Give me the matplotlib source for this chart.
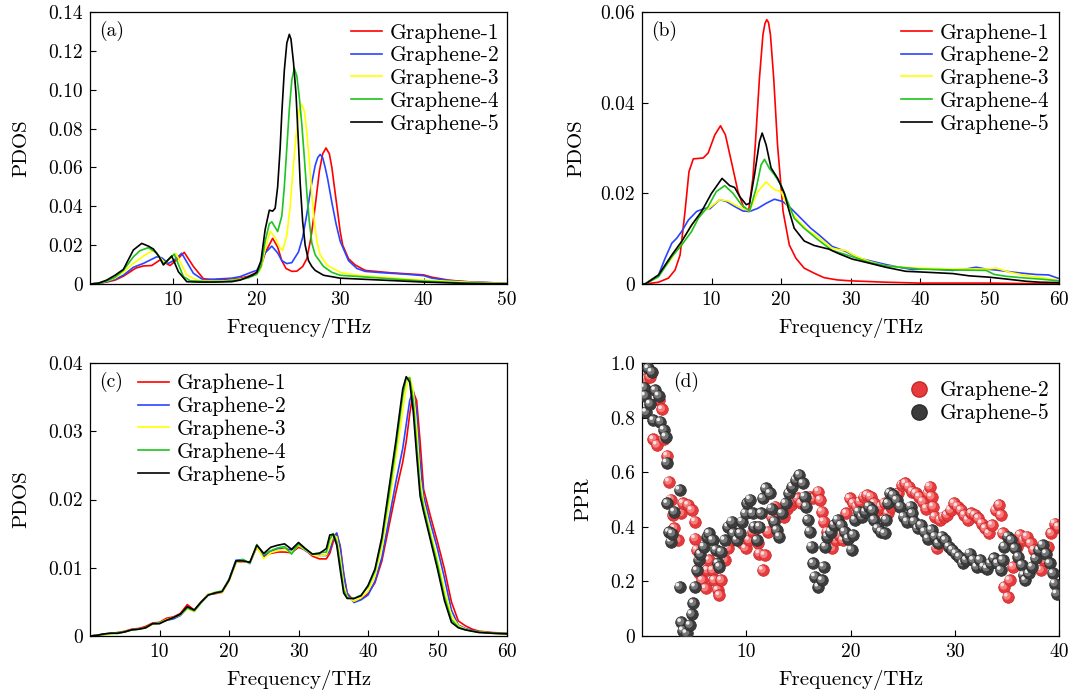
import matplotlib
matplotlib.use("Agg")
import matplotlib.pyplot as plt
from matplotlib.ticker import FixedLocator, FuncFormatter
from matplotlib.transforms import offset_copy
from matplotlib.lines import Line2D

plt.rcParams['font.family'] = ['cmr10', 'DejaVu Serif']
plt.rcParams['axes.formatter.use_mathtext'] = True
plt.rcParams['mathtext.fontset'] = 'cm'

labels = ["Graphene-1", "Graphene-2", "Graphene-3", "Graphene-4", "Graphene-5"]
colors = ["#ff0000", "#2a45ff", "#ffff00", "#1ec31e", "#000000"]

# ---------------- panel (a) ----------------
a_f1 = [0,1,2,3,4,5,5.5,6.4,7.4,8.4,9.6,10.5,11.3,12.4,13.6,15,17,18,19,19.5,20,20.5,21,21.9,22.5,23,23.5,24.2,24.8,25.5,26,26.5,27,27.5,27.9,28.3,28.7,29.0,29.3,29.7,30.0,30.3,31,31.8,33,36,40,41,43,45,50]
a_v1 = [0,0.0003,0.001,0.002,0.004,0.0068,0.0082,0.0093,0.0095,0.0124,0.0095,0.0128,0.0163,0.009,0.0027,0.0022,0.0025,0.003,0.004,0.005,0.006,0.009,0.016,0.0235,0.019,0.012,0.008,0.0065,0.0066,0.009,0.013,0.024,0.04,0.058,0.067,0.07,0.067,0.06,0.05,0.037,0.027,0.02,0.013,0.0098,0.007,0.0058,0.0047,0.0035,0.002,0.0012,0.0003]
a_f2 = [0,1,2,3,4,5.2,6.4,8,8.6,9.4,10,11,12.4,13.6,15,17,18,19.5,20,20.5,21,21.8,22.5,23,23.6,24.2,25,25.5,26,26.5,27,27.3,27.6,27.9,28.2,28.5,29,29.5,30,31,32,33,35,38,40,41,43,45,50]
a_v2 = [0,0.0003,0.0012,0.0025,0.0045,0.0086,0.0106,0.014,0.0135,0.0106,0.012,0.0158,0.0055,0.002,0.0025,0.003,0.0038,0.0063,0.007,0.011,0.016,0.0195,0.016,0.012,0.0105,0.011,0.0165,0.024,0.036,0.05,0.061,0.065,0.0667,0.065,0.06,0.054,0.042,0.031,0.022,0.012,0.008,0.0065,0.0058,0.005,0.0043,0.003,0.0018,0.0012,0.0003]
a_f3 = [0,1,2,3,4,5.2,6.4,7.6,9,10.3,11.6,12.8,14,16,18,19,20,20.5,21,21.6,22.2,22.7,23.1,23.6,24.0,24.4,24.8,25.1,25.4,25.7,26.0,26.3,26.6,26.9,27.2,27.6,28.4,30,32,35,40,45,50]
a_v3 = [0,0.0004,0.0015,0.003,0.006,0.0106,0.0144,0.0175,0.0106,0.0158,0.0046,0.002,0.0015,0.0015,0.0025,0.0035,0.005,0.008,0.018,0.027,0.024,0.019,0.0173,0.025,0.04,0.062,0.08,0.09,0.0925,0.089,0.078,0.063,0.046,0.032,0.022,0.015,0.0098,0.006,0.0045,0.0035,0.002,0.001,0.0003]
a_f4 = [0,1,2,3,4,5.2,6,7,8,8.8,10.1,11.2,12,14,16,18,19,20,20.5,21,21.5,21.8,22.5,23,23.3,23.6,23.9,24.2,24.5,24.8,25.1,25.4,25.7,26.0,26.3,26.6,27,28,29,30,35,40,45,50]
a_v4 = [0,0.0004,0.0015,0.0035,0.007,0.014,0.0172,0.0187,0.016,0.0103,0.0154,0.0038,0.0017,0.0012,0.0013,0.0022,0.0032,0.005,0.009,0.022,0.031,0.032,0.027,0.035,0.05,0.07,0.09,0.105,0.111,0.107,0.096,0.082,0.065,0.047,0.032,0.021,0.015,0.009,0.006,0.0045,0.003,0.0015,0.0005,0.0001]
a_f5 = [0,1,2,3,4,5.2,6.2,7,7.6,8.3,8.8,9.8,10.6,11.6,13,15,17,18,19.5,20,20.5,21,21.5,21.9,22.2,22.5,22.8,23.0,23.3,23.6,23.9,24.1,24.4,24.7,25.0,25.2,25.5,25.8,26.2,26.6,27,28,30,35,40,45,50]
a_v5 = [0,0.0004,0.002,0.0045,0.0075,0.0175,0.0209,0.0195,0.018,0.014,0.0098,0.0144,0.0063,0.0012,0.001,0.001,0.0012,0.002,0.0046,0.006,0.012,0.028,0.038,0.0375,0.039,0.05,0.07,0.088,0.11,0.124,0.1285,0.126,0.114,0.098,0.072,0.052,0.032,0.02,0.012,0.009,0.007,0.0045,0.003,0.002,0.001,0.0003,0.0001]

# ---------------- panel (b) ----------------
b_f1 = [0,0.48,2.38,3.81,4.76,5.48,6.19,6.76,7.38,8.81,9.52,10.48,11.29,12.0,12.86,13.81,14.67,15.33,15.95,16.3,16.9,17.4,17.7,17.95,18.2,18.48,18.95,19.5,20.3,21.2,22.14,23.33,24.76,26.19,28.1,30,35,40,45,50,55,60]
b_v1 = [0,0,0.0004,0.0013,0.0031,0.0064,0.016,0.0248,0.0276,0.0278,0.0289,0.0329,0.0349,0.0329,0.027,0.0204,0.0167,0.016,0.0233,0.0307,0.0454,0.055,0.0575,0.0583,0.0577,0.055,0.0454,0.0307,0.016,0.0086,0.0057,0.0035,0.0024,0.0014,0.0009,0.0007,0.0004,0.0002,0.0002,0.0002,0.0001,0.0001]
b_f2 = [0,0.48,2.38,3.33,4.29,5.0,5.71,6.67,7.86,9.05,9.76,11.19,12.14,13.33,14.52,15.48,16.67,17.86,19.05,20.24,21.43,22.86,24.29,25.5,27.35,29.28,31.2,33.13,35.06,36.99,38.9,40.84,42.77,44.7,46.6,48.07,49.5,51.4,53.4,55.3,56.7,58.5,60]
b_v2 = [0,0.0001,0.002,0.0057,0.009,0.0101,0.0116,0.0141,0.016,0.0167,0.0166,0.0186,0.0182,0.0171,0.0161,0.016,0.0167,0.0178,0.0187,0.0182,0.0167,0.0145,0.0123,0.0108,0.0083,0.0072,0.0057,0.005,0.0043,0.0037,0.0032,0.0033,0.0032,0.003,0.0033,0.0037,0.0033,0.003,0.0026,0.0023,0.0021,0.002,0.0012]
b_f3 = [0,0.48,2.38,4.29,5.71,7.14,8.57,9.52,11.19,12.38,13.81,15.48,16.67,17.86,18.57,19.05,20.0,20.95,22.38,23.81,25.24,27.35,28.3,29.28,30.7,32.65,35.06,37.5,39.9,44.7,49.5,51.0,52.9,55.3,57.2,60]
b_v3 = [0,0,0.002,0.0057,0.0094,0.013,0.016,0.0166,0.0186,0.0183,0.0171,0.0161,0.0204,0.0225,0.0215,0.0208,0.0204,0.0171,0.0141,0.0119,0.0105,0.0079,0.0076,0.0074,0.0062,0.005,0.004,0.0037,0.0035,0.0033,0.0033,0.0035,0.0026,0.0018,0.0015,0.0008]
b_f4 = [0,0.48,2.38,4.29,5.71,7.14,8.1,9.52,10.7,11.9,13.1,14.29,15.48,16.43,17.14,17.62,18.33,19.05,20.0,20.95,21.9,23.33,25.3,27.35,29.28,32.65,35.06,39.9,44.7,49.5,50.7,52.4,55.3,57.2,60]
b_v4 = [0,0,0.0016,0.006,0.0086,0.0116,0.0145,0.0171,0.0204,0.0217,0.02,0.0175,0.0161,0.0211,0.0263,0.0275,0.0255,0.0241,0.0219,0.0182,0.0145,0.0123,0.0098,0.0074,0.0065,0.0048,0.004,0.0033,0.0031,0.003,0.0021,0.0017,0.0013,0.0011,0.0007]
b_f5 = [0,0.48,2.38,4.29,5.71,7.14,8.57,10.0,11.52,12.62,13.33,14.05,15.0,15.48,16.19,16.9,17.29,17.86,18.57,19.52,20.48,21.19,21.9,23.33,24.76,26.87,28.3,30.24,32.17,35.06,37.95,40.84,44.7,47.1,50.0,52.4,55.3,57.2,60]
b_v5 = [0,0,0.002,0.0064,0.0094,0.013,0.016,0.02,0.0233,0.0217,0.0213,0.0193,0.0175,0.0178,0.0241,0.0314,0.0333,0.0307,0.0256,0.0233,0.02,0.016,0.0123,0.0095,0.0085,0.0077,0.0067,0.0055,0.0048,0.0037,0.0028,0.0026,0.0023,0.0018,0.0015,0.0011,0.0006,0.0004,0.0003]

# ---------------- panel (c) ----------------
c_f = [0,1,2,3,4,5,6,7,8,9,10,11,12,13,14,15,16,17,18,19,20,21,22,23,24,25,26,27,28,29,30,31,32,33,34,
       34.5,35,35.5,36,36.5,37,38,39,40,41,42,43,44,45,45.5,46,46.5,47,47.5,48,49,50,51,52,53,54,55,56,58,60]
c_v1 = [0,0.0001,0.0003,0.0004,0.0005,0.0007,0.001,0.0011,0.0014,0.0019,0.002,0.0026,0.0028,0.0033,0.0046,0.0038,0.005,0.0061,0.0062,0.0064,0.0081,0.0108,0.0109,0.0108,0.013,0.0118,0.0121,0.0123,0.0123,0.0122,0.013,0.0126,0.0117,0.0113,0.0113,
        0.0121,0.0138,0.015,0.0132,0.0092,0.0063,0.0051,0.0054,0.0062,0.0078,0.011,0.016,0.021,0.0255,
        0.0285,0.0325,0.0358,0.0345,0.0285,0.0215,0.0175,0.0138,0.0098,0.005,0.0022,0.0015,0.001,0.0007,0.0005,0.0004]
c_v2 = [0,0.0001,0.0002,0.0004,0.0004,0.0006,0.0009,0.001,0.0012,0.0018,0.0019,0.0023,0.0025,0.003,0.0041,0.0036,0.0049,0.006,0.0063,0.0065,0.0083,0.0111,0.0112,0.0106,0.0132,0.0116,0.0124,0.0128,0.0128,0.0126,0.0133,0.0125,0.0119,0.0118,0.0118,
        0.0125,0.0145,0.0151,0.013,0.009,0.0062,0.0049,0.0053,0.006,0.008,0.0115,0.017,0.0225,0.0275,
        0.031,0.0345,0.036,0.033,0.0255,0.0205,0.0165,0.0128,0.0085,0.0038,0.0016,0.0011,0.0008,0.0006,0.0004,0.0003]
c_v3 = [0,0.0001,0.0002,0.0003,0.0004,0.0006,0.0009,0.001,0.0012,0.0017,0.0019,0.0024,0.0027,0.0031,0.004,0.0036,0.0049,0.0061,0.0063,0.0064,0.0081,0.0108,0.011,0.0107,0.0131,0.0113,0.0122,0.0125,0.0127,0.0122,0.0133,0.0126,0.0119,0.0117,0.0119,
        0.0133,0.0148,0.0145,0.0115,0.0075,0.0057,0.0051,0.0056,0.0066,0.0088,0.013,0.019,0.026,0.033,
        0.0365,0.038,0.036,0.0305,0.023,0.0195,0.0152,0.0112,0.0068,0.003,0.0015,0.001,0.0007,0.0006,0.0004,0.0003]
c_v4 = [0,0.0001,0.0003,0.0004,0.0005,0.0006,0.0009,0.001,0.0012,0.0018,0.0019,0.0023,0.0027,0.0031,0.0041,0.0037,0.0049,0.006,0.0064,0.0066,0.0082,0.0109,0.0112,0.0107,0.0134,0.012,0.0125,0.0129,0.0131,0.012,0.0135,0.0127,0.012,0.0122,0.0123,
        0.0142,0.015,0.0138,0.0105,0.0068,0.0056,0.0055,0.006,0.0072,0.0095,0.014,0.0205,0.0275,0.0352,
        0.0378,0.0378,0.0345,0.028,0.0215,0.0188,0.0145,0.0105,0.0058,0.0024,0.0013,0.0009,0.0007,0.0006,0.0004,0.0004]
c_v5 = [0,0.0001,0.0003,0.0004,0.0004,0.0006,0.0009,0.001,0.0012,0.0018,0.0018,0.0023,0.0027,0.0032,0.0043,0.0038,0.005,0.006,0.0063,0.0065,0.0082,0.011,0.011,0.0108,0.0133,0.0121,0.013,0.0133,0.0135,0.0127,0.0137,0.0128,0.012,0.0121,0.0128,
        0.0148,0.0149,0.0133,0.0097,0.0063,0.0055,0.0055,0.0059,0.0074,0.0098,0.0145,0.0215,0.0285,0.0362,
        0.038,0.0372,0.033,0.0265,0.0205,0.0182,0.014,0.0098,0.0052,0.002,0.0012,0.0009,0.0007,0.0005,0.0004,0.0003]

# ---------------- panel (d) ----------------
d_f_g2 = [0.27,0.43,0.77,1.1,1.43,1.6,1.93,2.1,2.43,2.6,2.77,2.93,3.1,3.43,3.77,3.93,4.43,4.77,5.1,5.1,5.27,5.43,5.77,6.1,6.27,6.43,6.77,6.93,7.27,7.43,7.6,7.93,8.27,8.6,8.93,9.27,9.6,9.93,10.27,10.6,10.93,11.1,11.27,11.6,11.77,12.1,12.43,12.77,13.1,13.6,13.93,14.27,14.6,14.93,15.27,15.77,16.1,16.43,16.93,17.1,17.27,17.43,17.77,18.1,18.27,18.6,18.93,19.27,19.6,19.93,20.27,20.6,20.93,21.27,21.6,21.93,22.27,22.6,22.93,23.27,23.6,23.93,24.27,24.6,24.93,25.27,25.6,25.93,26.27,26.6,26.93,27.27,27.43,27.6,27.77,27.93,28.1,28.27,28.6,28.93,29.27,29.6,29.93,30.27,30.6,30.93,31.27,31.6,31.93,32.27,32.6,32.93,33.27,33.6,33.93,34.27,34.43,34.6,34.77,35.1,35.27,35.6,35.93,36.27,36.6,36.93,37.27,37.6,37.93,38.27,38.6,38.93,39.27,39.6,39.93]
d_v_g2 = [0.94,0.90,0.95,0.72,0.70,0.865,0.83,0.72,0.66,0.565,0.50,0.443,0.394,0.351,0.449,0.486,0.48,0.461,0.419,0.357,0.315,0.229,0.204,0.174,0.241,0.278,0.241,0.204,0.168,0.149,0.204,0.278,0.321,0.351,0.376,0.364,0.339,0.321,0.351,0.382,0.40,0.339,0.302,0.241,0.296,0.382,0.437,0.474,0.449,0.437,0.467,0.48,0.498,0.504,0.486,0.51,0.51,0.504,0.529,0.498,0.455,0.419,0.382,0.351,0.321,0.351,0.37,0.351,0.449,0.504,0.486,0.474,0.492,0.51,0.516,0.51,0.486,0.461,0.474,0.486,0.449,0.474,0.492,0.523,0.553,0.559,0.547,0.529,0.523,0.51,0.492,0.467,0.523,0.547,0.51,0.474,0.437,0.321,0.425,0.437,0.443,0.461,0.486,0.474,0.461,0.443,0.425,0.449,0.443,0.431,0.412,0.394,0.376,0.406,0.461,0.48,0.443,0.376,0.18,0.143,0.204,0.253,0.327,0.37,0.351,0.364,0.339,0.315,0.29,0.241,0.278,0.327,0.376,0.412,0.40]
d_f_g5 = [0.2,0.3,0.4,0.6,0.77,0.93,1.1,1.27,1.6,1.77,2.1,2.27,2.37,2.43,2.6,2.77,2.9,3.1,3.6,3.6,3.77,3.93,4.27,4.6,4.77,4.93,5.1,5.27,5.43,5.6,5.93,6.27,6.43,6.77,7.1,7.27,7.43,7.6,7.93,8.27,8.6,8.77,9.1,9.43,9.6,9.93,10.1,10.37,10.6,10.77,11.03,11.27,11.43,11.6,11.87,12.27,12.43,12.7,12.93,13.17,13.43,13.77,14.1,14.43,14.77,15.1,15.43,15.6,15.77,15.93,16.1,16.27,16.43,16.6,16.93,17.27,17.43,17.6,17.77,18.1,18.43,18.77,19.1,19.43,19.77,20.1,20.27,20.43,20.77,21.1,21.43,21.77,22.1,22.27,22.6,22.93,23.27,23.43,23.6,23.77,24.1,24.43,24.77,25.1,25.43,25.77,25.93,26.1,26.43,26.77,27.1,27.43,27.77,28.1,28.43,28.77,29.1,29.43,29.77,30.1,30.43,30.77,31.1,31.43,31.77,32.1,32.43,32.77,33.1,33.43,33.77,34.1,34.43,34.6,34.77,35.1,35.43,35.77,36.1,36.43,36.6,36.77,37.1,37.43,37.77,38.1,38.43,38.77,39.1,39.43,39.6,39.77]
d_v_g5 = [0.91,0.88,0.82,0.98,0.85,0.967,0.79,0.90,0.88,0.785,0.755,0.73,0.635,0.486,0.38,0.345,0.375,0.455,0.535,0.18,0.05,0.02,0.01,0.04,0.08,0.12,0.18,0.24,0.28,0.30,0.327,0.364,0.376,0.351,0.315,0.266,0.253,0.308,0.351,0.40,0.419,0.376,0.351,0.376,0.419,0.449,0.486,0.50,0.449,0.40,0.351,0.40,0.449,0.504,0.541,0.523,0.467,0.419,0.388,0.364,0.449,0.486,0.523,0.547,0.572,0.59,0.559,0.51,0.474,0.425,0.382,0.327,0.266,0.217,0.18,0.204,0.253,0.327,0.364,0.382,0.406,0.425,0.406,0.382,0.357,0.315,0.37,0.425,0.455,0.437,0.455,0.474,0.461,0.425,0.394,0.382,0.376,0.425,0.486,0.523,0.516,0.498,0.474,0.437,0.419,0.474,0.449,0.419,0.394,0.406,0.382,0.357,0.388,0.364,0.339,0.364,0.351,0.327,0.315,0.302,0.29,0.266,0.278,0.302,0.278,0.253,0.278,0.253,0.247,0.266,0.284,0.266,0.241,0.278,0.327,0.364,0.351,0.321,0.29,0.26,0.223,0.204,0.229,0.253,0.284,0.315,0.333,0.302,0.266,0.229,0.192,0.155]

FS_TICK = 14
FS_LAB = 15
FS_LEG = 15.5
W, H = 1074, 695
fig = plt.figure(figsize=(W/100, H/100), dpi=100)

def mk_ax(left, top, w, h):
    return fig.add_axes([left/W, 1-(top+h)/H, w/W, h/H])

def style(ax, xmax, xticks, ymax, yticks, ydec):
    ax.set_xlim(0, xmax)
    ax.set_ylim(0, ymax)
    ax.xaxis.set_major_locator(FixedLocator(xticks))
    ax.yaxis.set_major_locator(FixedLocator(yticks))
    ax.yaxis.set_major_formatter(FuncFormatter(lambda v, p: '0' if abs(v) < 1e-12 else f'{v:.{ydec}f}'))
    ax.xaxis.set_major_formatter(FuncFormatter(lambda v, p: f'{v:.0f}'))
    ax.tick_params(direction='in', length=4, width=0.8, labelsize=FS_TICK, pad=5, top=False, right=False)
    for s in ax.spines.values():
        s.set_linewidth(0.9)
    ax.set_xlabel('Frequency/THz', fontsize=FS_LAB, labelpad=6.5)

LEG_KW = dict(frameon=False, fontsize=FS_LEG, handlelength=1.45, handletextpad=0.35,
              labelspacing=0.15, borderaxespad=0.3)

panels_ab = [
    ((90, 12, 417, 272), 50, [10,20,30,40,50], 0.14, [0,0.02,0.04,0.06,0.08,0.10,0.12,0.14], 2,
     [(a_f1,a_v1),(a_f2,a_v2),(a_f3,a_v3),(a_f4,a_v4),(a_f5,a_v5)], '(a)', 13, 1.018),
    ((642, 12, 417, 272), 60, [10,20,30,40,50,60], 0.06, [0,0.02,0.04,0.06], 2,
     [(b_f1,b_v1),(b_f2,b_v2),(b_f3,b_v3),(b_f4,b_v4),(b_f5,b_v5)], '(b)', 11, 1.014),
]
for rect, xmax, xt, ymax, yt, dec, series, tag, lp, lx in panels_ab:
    ax = mk_ax(*rect)
    for (f, v), lab, col in zip(series, labels, colors):
        ax.plot(f, v, color=col, lw=1.2, label=lab)
    style(ax, xmax, xt, ymax, yt, dec)
    ax.set_ylabel('PDOS', fontsize=FS_LAB, labelpad=lp)
    ax.text(0.022, 0.93, tag, transform=ax.transAxes, fontsize=FS_TICK, va='center', ha='left')
    ax.legend(loc='upper right', bbox_to_anchor=(lx, 1.015), **LEG_KW)

# panel (c)
axc = mk_ax(90, 363, 417, 273)
for v, lab, col in zip([c_v1, c_v2, c_v3, c_v4, c_v5], labels, colors):
    axc.plot(c_f, v, color=col, lw=1.2, label=lab)
style(axc, 60, [10,20,30,40,50,60], 0.04, [0,0.01,0.02,0.03,0.04], 2)
axc.set_ylabel('PDOS', fontsize=FS_LAB, labelpad=13)
axc.text(0.022, 0.93, '(c)', transform=axc.transAxes, fontsize=FS_TICK, va='center', ha='left')
axc.legend(loc='upper left', bbox_to_anchor=(0.078, 1.015), **LEG_KW)

# panel (d)
axd = mk_ax(642, 363, 417, 273)
style(axd, 40, [10,20,30,40], 1.0, [0,0.2,0.4,0.6,0.8,1.0], 1)
axd.set_ylabel('PPR', fontsize=FS_LAB, labelpad=12.5)
axd.text(0.075, 0.93, '(d)', transform=axd.transAxes, fontsize=FS_TICK, va='center', ha='left')

t_mid = offset_copy(axd.transData, fig=fig, x=-1.0, y=1.0, units='dots')
t_hi = offset_copy(axd.transData, fig=fig, x=-2.2, y=2.2, units='dots')

def balls(xs, ys, base, mid, hi, edge, z0):
    for i, (x, y) in enumerate(zip(xs, ys)):
        z = z0 + i * 0.003
        axd.scatter([x], [y], s=70, c=base, edgecolors=edge, linewidths=0.5, zorder=z)
        axd.scatter([x], [y], s=30, c=mid, edgecolors='none', transform=t_mid, zorder=z + 0.001)
        axd.scatter([x], [y], s=7, c=hi, edgecolors='none', transform=t_hi, zorder=z + 0.002)

balls(d_f_g2, d_v_g2, '#e83a3c', '#f37f7f', '#ffe0e0', '#c42828', 2)
balls(d_f_g5, d_v_g5, '#3c3c3c', '#777777', '#eeeeee', '#2a2a2a', 4)

hd = [Line2D([], [], ls='none', marker='o', ms=11, mfc='#e83a3c', mec='#c42828'),
      Line2D([], [], ls='none', marker='o', ms=11, mfc='#3c3c3c', mec='#2a2a2a')]
axd.legend(hd, ['Graphene-2', 'Graphene-5'], loc='upper right', bbox_to_anchor=(1.013, 0.99),
           frameon=False, fontsize=FS_LEG, handlelength=1.0, handletextpad=0.45, labelspacing=0.15,
           borderaxespad=0.3)

fig.savefig('out.png', dpi=100)
